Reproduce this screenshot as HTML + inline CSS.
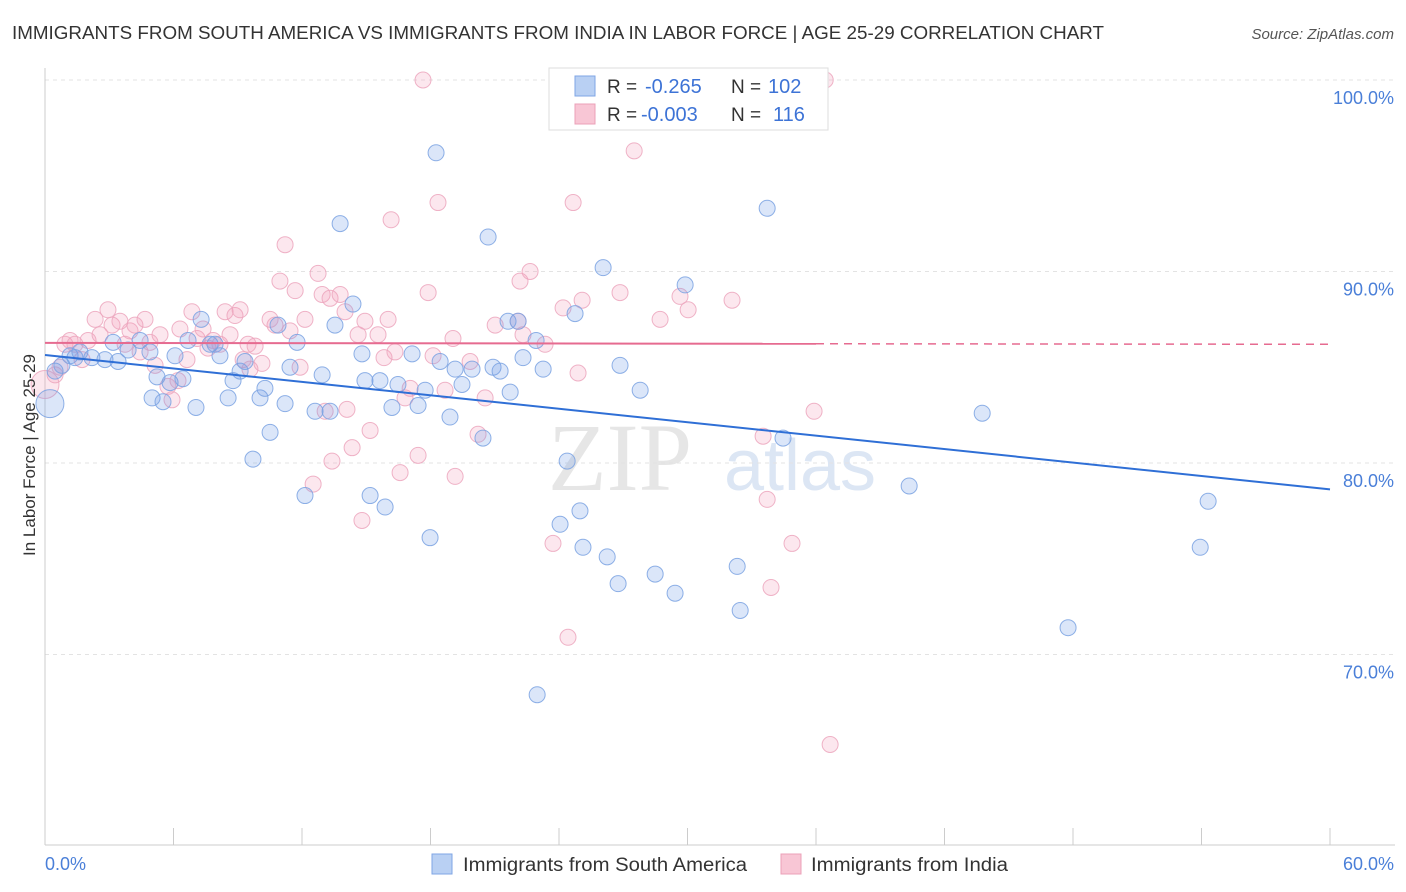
<!DOCTYPE html>
<html><head><meta charset="utf-8"><style>
body{margin:0;background:#fff;font-family:"Liberation Sans",sans-serif;}
svg{display:block}
</style></head><body>
<svg id="chart" width="1406" height="892">
<text x="12" y="39" font-size="18" fill="#333" textLength="1092" lengthAdjust="spacingAndGlyphs">IMMIGRANTS FROM SOUTH AMERICA VS IMMIGRANTS FROM INDIA IN LABOR FORCE | AGE 25-29 CORRELATION CHART</text>
<text x="1394" y="39" font-size="15" fill="#555" font-style="italic" text-anchor="end">Source: ZipAtlas.com</text>
<text x="620" y="490" font-size="96" fill="#e6e6e6" font-family="Liberation Serif" text-anchor="middle">ZIP</text>
<text x="800" y="490" font-size="72" fill="#dce6f4" text-anchor="middle">atlas</text>
<g id="grid"></g><g id="pts"></g><g id="trend"></g>
<text x="35" y="455" font-size="17" fill="#333" text-anchor="middle" transform="rotate(-90 35 455)">In Labor Force | Age 25-29</text>
<text x="45" y="870" font-size="18" fill="#4a7fd8">0.0%</text>
<text x="1394" y="870" font-size="18" fill="#4a7fd8" text-anchor="end">60.0%</text>
<g>
<rect x="549" y="68" width="279" height="62" fill="#fff" stroke="#ddd"/>
<rect x="575" y="76" width="20" height="20" fill="#b9d0f3" stroke="#7fa6e4"/>
<rect x="575" y="104" width="20" height="20" fill="#f8c6d5" stroke="#eba0b8"/>
<text x="607" y="93" font-size="19" fill="#333">R =</text>
<text x="645" y="93" font-size="20" fill="#3d73d6">-0.265</text>
<text x="731" y="93" font-size="19" fill="#333">N =</text>
<text x="768" y="93" font-size="20" fill="#3d73d6">102</text>
<text x="607" y="121" font-size="19" fill="#333">R =</text>
<text x="641" y="121" font-size="20" fill="#3d73d6">-0.003</text>
<text x="731" y="121" font-size="19" fill="#333">N =</text>
<text x="773" y="121" font-size="20" fill="#3d73d6">116</text>
</g>
<g>
<rect x="432" y="854" width="20" height="20" fill="#b9d0f3" stroke="#7fa6e4"/>
<text x="463" y="871" font-size="19" fill="#333" textLength="284" lengthAdjust="spacingAndGlyphs">Immigrants from South America</text>
<rect x="781" y="854" width="20" height="20" fill="#f8c6d5" stroke="#eba0b8"/>
<text x="811" y="871" font-size="19" fill="#333" textLength="197" lengthAdjust="spacingAndGlyphs">Immigrants from India</text>
</g>
</svg>
<script>
const yTicks=[100,90,80,70];
const yTickLabels=["100.0%","90.0%","80.0%","70.0%"];
const xTicks=[0,6,12,18,24,30,36,42,48,54,60];
const blueX=[0.23,0.47,0.79,1.17,1.40,1.63,2.19,2.80,3.41,3.18,3.88,4.44,4.90,5.00,5.23,5.51,5.84,6.07,6.44,6.68,7.05,7.29,7.71,7.94,8.17,8.55,8.78,9.11,9.34,9.71,10.04,10.27,10.51,10.88,11.21,11.44,11.77,12.14,12.61,12.94,13.31,13.54,13.78,14.38,14.80,14.94,15.18,15.64,15.88,16.20,16.48,17.14,17.42,17.75,17.98,18.26,18.45,18.91,19.15,19.47,19.94,20.45,20.69,20.92,21.25,21.62,21.72,22.09,22.32,22.93,22.98,23.26,24.05,24.38,24.75,24.98,25.12,26.06,26.25,26.76,26.85,27.32,27.79,28.49,29.42,29.89,32.32,32.46,33.72,34.46,40.35,43.76,47.77,53.94,54.31];
const blueY=[83.1,84.8,85.1,85.6,85.5,85.8,85.5,85.4,85.3,86.3,85.9,86.4,85.8,83.4,84.5,83.2,84.2,85.6,84.4,86.4,82.9,87.5,86.2,86.2,85.6,83.4,84.3,84.8,85.3,80.2,83.4,83.9,81.6,87.2,83.1,85.0,86.3,78.3,82.7,84.6,82.7,87.2,92.5,88.3,85.7,84.3,78.3,84.3,77.7,82.9,84.1,85.7,83.0,83.8,76.1,96.2,85.3,82.4,84.9,84.1,84.9,81.3,91.8,85.0,84.8,87.4,83.7,87.4,85.5,86.4,67.9,84.9,76.8,80.1,87.8,77.5,75.6,90.2,75.1,73.7,85.1,100,83.8,74.2,73.2,89.3,74.6,72.3,93.3,81.3,78.8,82.6,71.4,75.6,78.0];
const pinkX=[0.0,0.47,0.70,0.93,1.17,1.40,1.73,2.01,2.34,2.57,2.94,3.13,3.50,3.74,3.97,4.20,4.44,4.67,4.90,5.14,5.37,5.74,5.93,6.21,6.30,6.63,6.86,7.10,7.38,7.61,7.85,8.17,8.41,8.64,8.87,9.11,9.25,9.48,9.57,9.81,10.13,10.51,10.74,10.97,11.21,11.44,11.68,11.91,12.14,12.52,12.75,12.94,13.08,13.31,13.40,13.78,14.01,14.10,14.34,14.62,14.80,14.94,15.18,15.55,15.83,16.02,16.16,16.34,16.58,16.81,17.05,17.42,17.65,17.89,18.12,18.35,18.68,19.05,19.15,19.85,20.22,20.55,21.02,22.09,22.18,22.32,22.65,23.35,23.72,24.19,24.42,24.66,24.89,25.08,26.85,27.51,28.72,29.65,30.03,32.08,33.53,33.72,33.90,34.88,35.91,36.43,36.66];
const pinkY=[84.1,84.6,85.0,86.2,86.4,86.2,85.4,86.4,87.5,86.7,88.0,87.2,87.4,86.2,86.9,87.2,85.8,87.5,86.3,85.1,86.7,84.0,83.3,84.3,87.0,85.4,87.9,86.5,87.0,86.0,86.4,86.2,87.9,86.7,87.7,88.0,85.4,86.2,84.9,86.1,85.2,87.5,87.2,89.5,91.4,86.9,89.0,85.0,87.5,78.9,89.9,88.8,82.7,88.6,80.1,88.8,87.9,82.8,80.8,86.7,77.0,87.4,81.7,86.7,85.5,87.5,92.7,85.8,79.5,83.4,83.9,80.4,100,88.9,85.6,93.6,83.8,86.5,79.3,85.3,81.5,83.4,87.2,87.4,89.5,86.7,90.0,86.2,75.8,88.1,70.9,93.6,84.7,88.5,88.9,96.3,87.5,88.7,88.0,88.5,81.4,78.1,73.5,75.8,82.7,100,65.3];
const blueTrend=[85.64,-0.117];
const pinkTrend=[86.27,-0.0012];
const pinkSolidEnd=36.0;
const NS="http://www.w3.org/2000/svg";
const X0=45,X1=1330;
const sx=v=>X0+(v/60)*(X1-X0);
const sy=v=>80+(100-v)*19.15;
function mk(t,a,p){const e=document.createElementNS(NS,t);for(const k in a)e.setAttribute(k,a[k]);p.appendChild(e);return e;}
const grid=document.getElementById('grid');
yTicks.forEach((t,i)=>{
 const l=mk('line',{x1:X0,x2:1395,y1:sy(t),y2:sy(t),stroke:'#e3e3e3','stroke-dasharray':'4,4'},grid);
 
 
 const tx=mk('text',{x:1394,y:sy(t)+24,'font-size':18,fill:'#4a7fd8','text-anchor':'end'},grid);
 tx.textContent=yTickLabels[i];
 
 
});
const ax=mk('line',{x1:X0,x2:X0,y1:68,y2:845,stroke:'#ccc'},grid);


const bx=mk('line',{x1:X0,x2:1395,y1:845,y2:845,stroke:'#ccc'},grid);


xTicks.forEach(t=>{
 const l=mk('line',{x1:sx(t),x2:sx(t),y1:828,y2:845,stroke:'#ccc'},grid);
 
 
});
const pts=document.getElementById('pts');
function drawPts(xs,ys,fill,stroke,name,bigIdx){
 xs.forEach((x,i)=>{
  const c=mk('circle',{cx:sx(x),cy:sy(ys[i]),r:i===bigIdx?14:8,fill:fill,stroke:stroke,'stroke-width':1,'stroke-opacity':0.85},pts);
  
  
 });
}
drawPts(pinkX,pinkY,'rgba(243,160,188,0.25)','#eca6bd','india-point',0);
drawPts(blueX,blueY,'rgba(110,155,230,0.25)','#7aa2e2','south-america-point',0);
const tr=document.getElementById('trend');
const bl=mk('line',{x1:sx(0),y1:sy(blueTrend[0]),x2:sx(60),y2:sy(blueTrend[0]+blueTrend[1]*60),stroke:'#2f6fd6','stroke-width':2},tr);


const pl=mk('line',{x1:sx(0),y1:sy(pinkTrend[0]),x2:sx(pinkSolidEnd),y2:sy(pinkTrend[0]+pinkTrend[1]*pinkSolidEnd),stroke:'#e66b90','stroke-width':2},tr);


const pd=mk('line',{x1:sx(pinkSolidEnd),y1:sy(pinkTrend[0]+pinkTrend[1]*pinkSolidEnd),x2:sx(60),y2:sy(pinkTrend[0]+pinkTrend[1]*60),stroke:'#e66b90','stroke-width':1.5,'stroke-dasharray':'8,6'},tr);


</script>
</body></html>
